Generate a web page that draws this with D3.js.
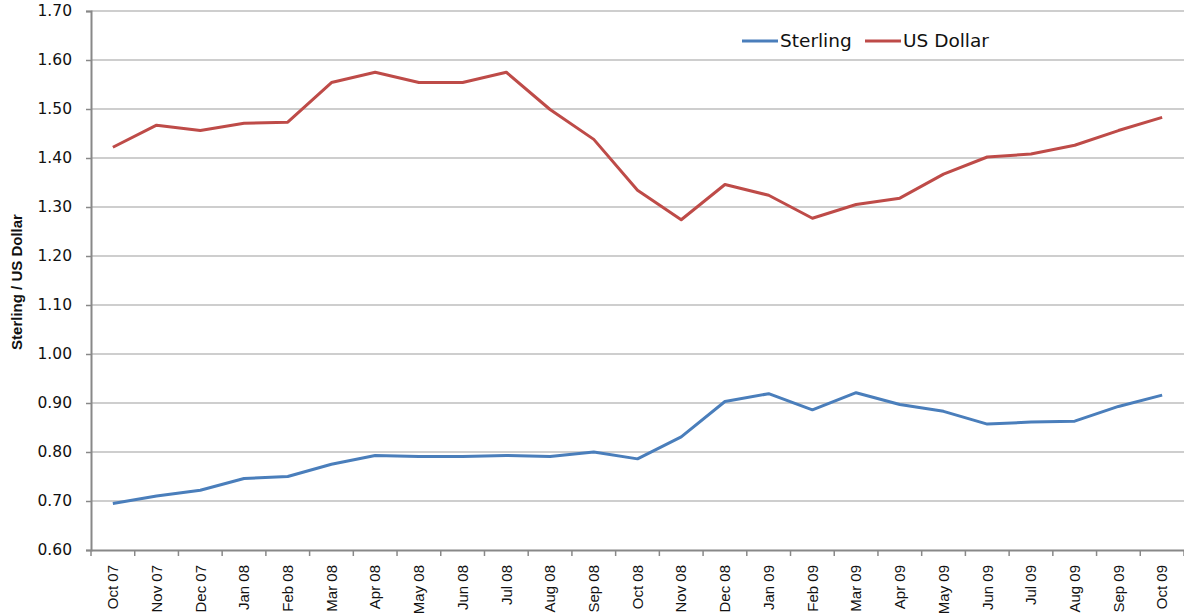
<!DOCTYPE html>
<html lang="en">
<head>
  <meta charset="UTF-8">
  <script src="https://cdnjs.cloudflare.com/ajax/libs/d3/7.8.5/d3.min.js"></script>
  <style>
    body { margin: 0; background: #fff; }
    .narrow { font-family: "Liberation Sans Narrow", "Arial Narrow", "Liberation Sans", sans-serif; }
  </style>
  <title>Sterling / US Dollar</title>
</head>
<body>
  <script>
    const months = ["Oct 07", "Nov 07", "Dec 07", "Jan 08", "Feb 08", "Mar 08", "Apr 08", "May 08",
      "Jun 08", "Jul 08", "Aug 08", "Sep 08", "Oct 08", "Nov 08", "Dec 08", "Jan 09", "Feb 09",
      "Mar 09", "Apr 09", "May 09", "Jun 09", "Jul 09", "Aug 09", "Sep 09", "Oct 09"];

    const sterling = [0.695, 0.710, 0.722, 0.746, 0.750, 0.775, 0.793, 0.791, 0.791, 0.793, 0.791,
      0.800, 0.786, 0.831, 0.903, 0.919, 0.886, 0.921, 0.897, 0.883, 0.857, 0.861, 0.863, 0.893, 0.916];

    const usDollar = [1.422, 1.467, 1.456, 1.471, 1.473, 1.554, 1.575, 1.554, 1.554, 1.575, 1.499,
      1.438, 1.334, 1.274, 1.346, 1.324, 1.277, 1.305, 1.318, 1.367, 1.402, 1.408, 1.426, 1.456, 1.483];

    const yTicks = [0.60, 0.70, 0.80, 0.90, 1.00, 1.10, 1.20, 1.30, 1.40, 1.50, 1.60, 1.70];

    const w = 1184, h = 614;
    const plotLeft = 91, plotRight = 1184, plotTop = 11, plotBottom = 550;

    const svg = d3.select("body").append("svg")
      .attr("width", w)
      .attr("height", h);

    const x = d3.scaleBand().domain(months).range([plotLeft, plotRight]);
    const y = d3.scaleLinear().domain([0.6, 1.7]).range([plotBottom, plotTop]);

    // gridlines
    svg.append("g")
      .selectAll("line")
      .data(yTicks.slice(1))
      .enter().append("line")
      .attr("x1", plotLeft).attr("x2", plotRight)
      .attr("y1", d => y(d)).attr("y2", d => y(d))
      .attr("stroke", "#bebebe")
      .attr("stroke-width", 1.5);

    // y axis
    const yAxis = d3.axisLeft(y).tickValues(yTicks).tickFormat(d3.format(".2f")).tickSize(5).tickPadding(14);
    const gy = svg.append("g")
      .attr("transform", "translate(" + plotLeft + ",0)")
      .call(yAxis);
    gy.select(".domain").attr("stroke", "#888").attr("stroke-width", 2);
    gy.selectAll(".tick line").attr("stroke", "#888").attr("stroke-width", 1.5);
    gy.selectAll("text")
      .attr("font-family", "DejaVu Sans, sans-serif")
      .attr("font-size", 15.5)
      .attr("fill", "#111");

    // x axis
    const xAxis = d3.axisBottom(x).tickSize(0);
    const gx = svg.append("g")
      .attr("transform", "translate(0," + plotBottom + ")")
      .call(xAxis);
    gx.select(".domain").attr("stroke", "#888").attr("stroke-width", 2);
    gx.selectAll("text")
      .attr("class", "narrow")
      .attr("font-size", 15)
      .attr("fill", "#111")
      .attr("transform", "rotate(-90)")
      .attr("text-anchor", "end")
      .attr("x", -15)
      .attr("y", 0)
      .attr("dy", "0.35em");

    // category boundary ticks
    svg.append("g")
      .selectAll("line")
      .data(d3.range(months.length + 1))
      .enter().append("line")
      .attr("x1", i => plotLeft + i * x.step())
      .attr("x2", i => plotLeft + i * x.step())
      .attr("y1", plotBottom).attr("y2", plotBottom + 6)
      .attr("stroke", "#888")
      .attr("stroke-width", 1.5);

    svg.append("text")
      .attr("class", "narrow")
      .attr("transform", "translate(22,282) rotate(-90)")
      .attr("text-anchor", "middle")
      .attr("font-size", 15)
      .attr("font-weight", "bold")
      .attr("fill", "#111")
      .text("Sterling / US Dollar");

    const line = d3.line()
      .x((d, i) => x(months[i]) + x.bandwidth() / 2)
      .y(d => y(d));

    const series = [
      { name: "Sterling", values: sterling, color: "#4a7ebb" },
      { name: "US Dollar", values: usDollar, color: "#be4b48" }
    ];

    svg.selectAll(".series")
      .data(series)
      .enter().append("path")
      .attr("class", "series")
      .attr("d", d => line(d.values))
      .attr("fill", "none")
      .attr("stroke", d => d.color)
      .attr("stroke-width", 3)
      .attr("stroke-linejoin", "round");

    // legend
    const legendX = [742, 865];
    const legend = svg.append("g");
    series.forEach((s, i) => {
      legend.append("line")
        .attr("x1", legendX[i]).attr("x2", legendX[i] + 36)
        .attr("y1", 41).attr("y2", 41)
        .attr("stroke", s.color)
        .attr("stroke-width", 3);
      legend.append("text")
        .attr("x", legendX[i] + 38)
        .attr("y", 47)
        .attr("font-family", "DejaVu Sans, sans-serif")
        .attr("font-size", 18.5)
        .attr("fill", "#111")
        .text(s.name);
    });
  </script>
</body>
</html>
